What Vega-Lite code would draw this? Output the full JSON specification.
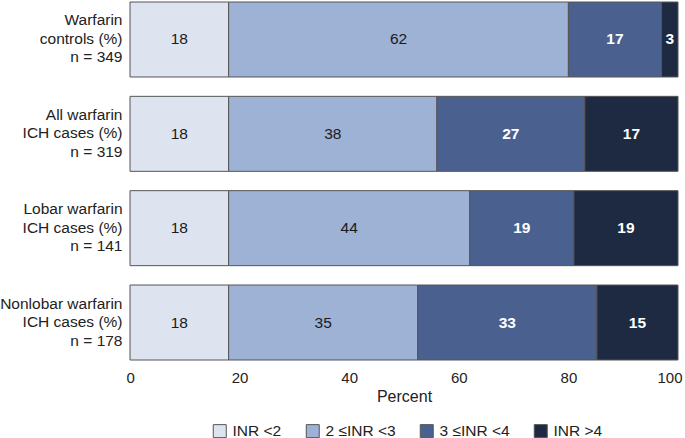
{
  "$schema": "https://vega.github.io/schema/vega-lite/v6.json",
  "autosize": {"type": "none"},
  "width": 548,
  "height": 358,
  "padding": {"left": 130, "top": 2, "right": 7, "bottom": 78},
  "background": "white",
  "config": {
    "font": "Liberation Sans",
    "view": {"stroke": null}
  },
  "data": {
    "values": [
      {"group": "Warfarin|controls (%)|n = 349", "cat": "INR <2", "o": 1, "v": 18, "lab": "18"},
      {"group": "Warfarin|controls (%)|n = 349", "cat": "2 ≤INR <3", "o": 2, "v": 62, "lab": "62"},
      {"group": "Warfarin|controls (%)|n = 349", "cat": "3 ≤INR <4", "o": 3, "v": 17, "lab": "17"},
      {"group": "Warfarin|controls (%)|n = 349", "cat": "INR >4", "o": 4, "v": 3, "lab": "3"},
      {"group": "All warfarin|ICH cases (%)|n = 319", "cat": "INR <2", "o": 1, "v": 18, "lab": "18"},
      {"group": "All warfarin|ICH cases (%)|n = 319", "cat": "2 ≤INR <3", "o": 2, "v": 38, "lab": "38"},
      {"group": "All warfarin|ICH cases (%)|n = 319", "cat": "3 ≤INR <4", "o": 3, "v": 27, "lab": "27"},
      {"group": "All warfarin|ICH cases (%)|n = 319", "cat": "INR >4", "o": 4, "v": 17, "lab": "17"},
      {"group": "Lobar warfarin|ICH cases (%)|n = 141", "cat": "INR <2", "o": 1, "v": 18, "lab": "18"},
      {"group": "Lobar warfarin|ICH cases (%)|n = 141", "cat": "2 ≤INR <3", "o": 2, "v": 44, "lab": "44"},
      {"group": "Lobar warfarin|ICH cases (%)|n = 141", "cat": "3 ≤INR <4", "o": 3, "v": 19, "lab": "19"},
      {"group": "Lobar warfarin|ICH cases (%)|n = 141", "cat": "INR >4", "o": 4, "v": 19, "lab": "19"},
      {"group": "Nonlobar warfarin|ICH cases (%)|n = 178", "cat": "INR <2", "o": 1, "v": 18, "lab": "18"},
      {"group": "Nonlobar warfarin|ICH cases (%)|n = 178", "cat": "2 ≤INR <3", "o": 2, "v": 34.5, "lab": "35"},
      {"group": "Nonlobar warfarin|ICH cases (%)|n = 178", "cat": "3 ≤INR <4", "o": 3, "v": 32.7, "lab": "33"},
      {"group": "Nonlobar warfarin|ICH cases (%)|n = 178", "cat": "INR >4", "o": 4, "v": 14.8, "lab": "15"}
    ]
  },
  "transform": [
    {"stack": "v", "groupby": ["group"], "sort": [{"field": "o", "order": "ascending"}], "as": ["x0", "x1"]}
  ],
  "encoding": {
    "y": {
      "field": "group",
      "type": "nominal",
      "sort": null,
      "scale": {"paddingInner": 0.205, "paddingOuter": 0},
      "axis": {
        "title": null,
        "domain": false,
        "ticks": false,
        "labelExpr": "split(datum.label, '|')",
        "labelFontSize": 15.5,
        "labelLineHeight": 18.5,
        "labelOffset": -19,
        "labelColor": "#222222",
        "labelPadding": 8,
        "labelLimit": 200
      }
    }
  },
  "layer": [
    {
      "mark": {"type": "bar", "stroke": "#555555", "strokeWidth": 1},
      "encoding": {
        "x": {
          "field": "x0",
          "type": "quantitative",
          "scale": {"domain": [0, 100], "nice": false},
          "axis": {
            "values": [0, 20, 40, 60, 80, 100],
            "domain": false,
            "ticks": false,
            "grid": false,
            "labelFlush": true,
            "labelFlushOffset": 4,
            "labelFontSize": 15,
            "labelColor": "#222222",
            "labelPadding": 10,
            "title": "Percent",
            "titleFontSize": 16,
            "titleFontWeight": "normal",
            "titleColor": "#222222",
            "titlePadding": 3
          }
        },
        "x2": {"field": "x1"},
        "color": {
          "field": "cat",
          "type": "nominal",
          "sort": ["INR <2", "2 ≤INR <3", "3 ≤INR <4", "INR >4"],
          "scale": {
            "domain": ["INR <2", "2 ≤INR <3", "3 ≤INR <4", "INR >4"],
            "range": ["#dde4f0", "#9eb2d5", "#4a6190", "#1e2a42"]
          },
          "legend": {
            "title": null,
            "orient": "none",
            "direction": "horizontal",
            "legendX": 82,
            "legendY": 421,
            "symbolType": "square",
            "symbolSize": 169,
            "symbolStrokeColor": "#555555",
            "symbolStrokeWidth": 1,
            "symbolOpacity": 1,
            "labelFontSize": 15.5,
            "labelColor": "#222222",
            "labelOffset": 5,
            "columnPadding": 22
          }
        }
      }
    },
    {
      "transform": [
        {"filter": "datum.o <= 2"},
        {"fold": ["x0", "x1"], "as": ["edge", "xv"]},
        {"aggregate": [{"op": "mean", "field": "xv", "as": "xm"}], "groupby": ["group", "cat", "o", "lab"]}
      ],
      "mark": {"type": "text", "fontSize": 15.5, "baseline": "middle", "align": "center", "color": "#1a1a1a"},
      "encoding": {
        "x": {"field": "xm", "type": "quantitative"},
        "text": {"field": "lab"}
      }
    },
    {
      "transform": [
        {"filter": "datum.o >= 3"},
        {"fold": ["x0", "x1"], "as": ["edge", "xv"]},
        {"aggregate": [{"op": "mean", "field": "xv", "as": "xm"}], "groupby": ["group", "cat", "o", "lab"]}
      ],
      "mark": {"type": "text", "fontSize": 15.5, "fontWeight": "bold", "baseline": "middle", "align": "center", "color": "white"},
      "encoding": {
        "x": {"field": "xm", "type": "quantitative"},
        "text": {"field": "lab"}
      }
    }
  ]
}
